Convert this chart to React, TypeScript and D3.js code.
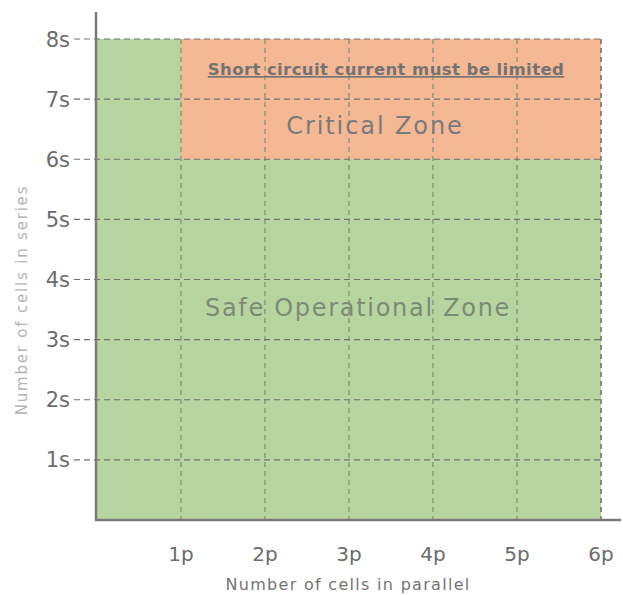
import React from "react";
import * as d3 from "d3";

const xTickValues = [1, 2, 3, 4, 5, 6];
const xTickLabels = ["1p", "2p", "3p", "4p", "5p", "6p"];
const yTickValues = [1, 2, 3, 4, 5, 6, 7, 8];
const yTickLabels = ["1s", "2s", "3s", "4s", "5s", "6s", "7s", "8s"];
const safeZone = [0, 6, 0, 8]; // x0, x1, y0, y1
const criticalZone = [1, 6, 6, 8];
const xTitle = "Number of cells in parallel";
const yTitle = "Number of cells in series";
const safeLabel = "Safe Operational Zone";
const criticalLabel = "Critical Zone";
const warningLabel = "Short circuit current must be limited";

const W = 623;
const H = 595;
const FONT = "'DejaVu Sans', sans-serif";

export default function App() {
  const x = d3.scaleLinear().domain([0, 6]).range([97, 601]);
  const y = d3.scaleLinear().domain([0, 8]).range([520, 39]);
  const axisColor = "#7a7a7a";
  const textColor = "#6c6c6c";

  return (
    <svg
      width={W}
      height={H}
      style={{ position: "absolute", left: 0, top: 0, background: "#fff" }}
      fontFamily={FONT}
    >
      {/* safe zone */}
      <rect
        x={x(safeZone[0])}
        y={y(safeZone[3])}
        width={x(safeZone[1]) - x(safeZone[0])}
        height={y(safeZone[2]) - y(safeZone[3])}
        fill="#b7d5a1"
      />
      {/* critical zone */}
      <rect
        x={x(criticalZone[0])}
        y={y(criticalZone[3])}
        width={x(criticalZone[1]) - x(criticalZone[0])}
        height={y(criticalZone[2]) - y(criticalZone[3])}
        fill="#f4b894"
      />
      {/* vertical grid */}
      {xTickValues.map((v) => (
        <line
          key={"vg" + v}
          x1={x(v)}
          x2={x(v)}
          y1={y(8)}
          y2={y(0)}
          stroke={v === 6 ? "#6f7a68" : "#7f8c76"}
          strokeWidth={v === 6 ? 1.6 : 1.2}
          strokeDasharray="5,4"
        />
      ))}
      {/* horizontal grid */}
      {yTickValues.map((v) => (
        <line
          key={"hg" + v}
          x1={74}
          x2={x(6)}
          y1={y(v)}
          y2={y(v)}
          stroke="#707070"
          strokeWidth={1.2}
          strokeDasharray="6,4"
        />
      ))}
      {/* axes */}
      <line x1={x(0) - 1} x2={x(0) - 1} y1={y(0) + 1} y2={12} stroke={axisColor} strokeWidth={2.5} />
      <line x1={x(0) - 2} x2={621} y1={y(0)} y2={y(0)} stroke={axisColor} strokeWidth={2.5} />
      {/* y tick labels */}
      {yTickValues.map((v, i) => (
        <text
          key={"yl" + v}
          x={70}
          y={y(v)}
          dy="0.36em"
          textAnchor="end"
          fontSize={21}
          fill={textColor}
        >
          {yTickLabels[i]}
        </text>
      ))}
      {/* x tick labels */}
      {xTickValues.map((v, i) => (
        <text
          key={"xl" + v}
          x={x(v)}
          y={561}
          textAnchor="middle"
          fontSize={20}
          fill={textColor}
        >
          {xTickLabels[i]}
        </text>
      ))}
      <text x={348} y={590} textAnchor="middle" fontSize={16} letterSpacing={1.3} fill="#747474">
        {xTitle}
      </text>
      <text
        transform={`translate(27,300) rotate(-90)`}
        textAnchor="middle"
        fontSize={15}
        letterSpacing={1.8}
        fill="#b4b4b4"
      >
        {yTitle}
      </text>
      <text
        x={386}
        y={75}
        textAnchor="middle"
        fontSize={16.5}
        fontWeight="bold"
        letterSpacing={0.4}
        fill="#737373"
        textDecoration="underline"
      >
        {warningLabel}
      </text>
      <text x={375} y={134} textAnchor="middle" fontSize={24} letterSpacing={1.9} fill="#7a7a7a">
        {criticalLabel}
      </text>
      <text x={358} y={316} textAnchor="middle" fontSize={24} letterSpacing={1.7} fill="#7c8a74">
        {safeLabel}
      </text>
    </svg>
  );
}
